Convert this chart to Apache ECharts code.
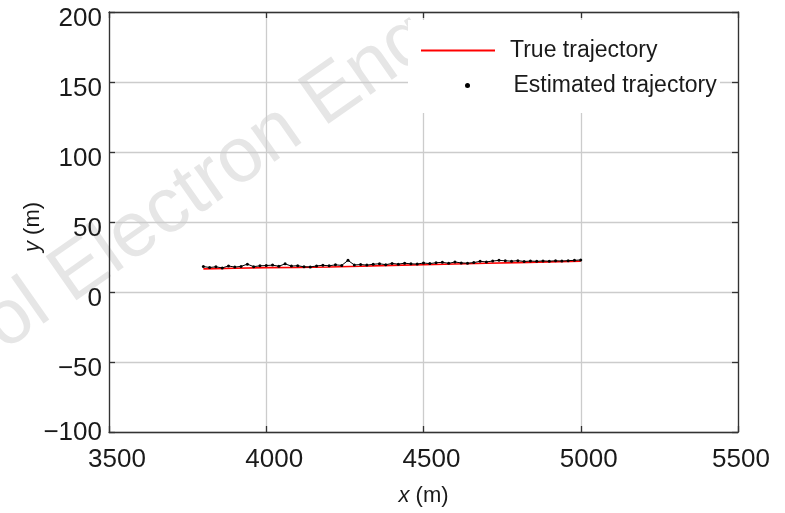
<!DOCTYPE html>
<html>
<head>
<meta charset="utf-8">
<script src="https://cdn.jsdelivr.net/npm/echarts@6/dist/echarts.min.js"></script>
<style>html,body{margin:0;padding:0;background:#fff;}#c{width:785px;height:513px;}</style>
</head>
<body>
<div id="c"></div>
<script>
// Axis ticks
var xTicks = [3500, 4000, 4500, 5000, 5500];
var yTicks = [-100, -50, 0, 50, 100, 150, 200];

// True trajectory (x, y in m)
var trueX = [3800, 3900, 4000, 4100, 4200, 4300, 4400, 4500, 4600, 4700, 4800, 4900, 5000];
var trueY = [16.5, 17.0, 17.4, 17.6, 17.9, 18.4, 19.0, 19.5, 20.0, 20.5, 21.0, 21.5, 22.0];

// Estimated trajectory (x, y in m)
var estX = [3800, 3820, 3840, 3860, 3880, 3900, 3920, 3940, 3960, 3980,
            4000, 4020, 4040, 4060, 4080, 4100, 4120, 4140, 4160, 4180,
            4200, 4220, 4240, 4260, 4280, 4300, 4320, 4340, 4360, 4380,
            4400, 4420, 4440, 4460, 4480, 4500, 4520, 4540, 4560, 4580,
            4600, 4620, 4640, 4660, 4680, 4700, 4720, 4740, 4760, 4780,
            4800, 4820, 4840, 4860, 4880, 4900, 4920, 4940, 4960, 4980, 5000];
var estY = [18.2, 17.5, 18.0, 17.2, 18.6, 17.8, 18.3, 19.9, 18.1, 18.7,
            18.9, 19.2, 18.4, 20.1, 18.5, 18.8, 18.0, 17.9, 18.6, 19.1,
            18.7, 19.4, 19.0, 22.6, 19.3, 19.6, 19.2, 19.8, 20.2, 19.5,
            20.4, 19.9, 20.6, 20.1, 20.0, 20.7, 20.3, 20.9, 21.2, 20.5,
            21.4, 20.8, 20.6, 21.0, 21.9, 21.5, 22.1, 22.6, 22.3, 22.0,
            22.4, 21.8, 22.1, 21.9, 22.2, 22.0, 22.3, 22.1, 22.4, 22.6, 22.9];

var trueData = trueX.map(function (x, i) { return [x, trueY[i]]; });
var estData = estX.map(function (x, i) { return [x, estY[i]]; });

var FONT = '"Liberation Sans", Arial, sans-serif';
var TXT = '#1a1a1a';
var FRAME = '#333333';
var GRIDC = '#cccccc';

function fmtNum(v) { return v < 0 ? '\u2212' + Math.abs(v) : String(v); }

function frameAxisLine() { return { show: true, onZero: false, lineStyle: { color: FRAME, width: 1.3 } }; }
function frameTick() { return { show: true, inside: true, length: 6, lineStyle: { color: FRAME, width: 1.3 } }; }

var chart = echarts.init(document.getElementById('c'), null, { renderer: 'canvas' });
chart.setOption({
  backgroundColor: '#ffffff',
  animation: false,
  grid: { left: 109, right: 47, top: 12, bottom: 81, show: false },
  graphic: [
    {
      type: 'text', z: 0, silent: true,
      x: 208, y: 182, rotation: 35 * Math.PI / 180,
      style: { text: 'ol Electron Eng', font: '78px ' + FONT, fill: '#e6e6e6', align: 'center', verticalAlign: 'middle' }
    },
    {
      type: 'rect', z: 1, silent: true,
      shape: { x: 408, y: 20, width: 312, height: 93 },
      style: { fill: '#ffffff' }
    }
  ],
  legend: [
    {
      data: [{ name: 'True trajectory', icon: 'rect' }],
      left: 421, top: 39, orient: 'horizontal', padding: 0,
      itemWidth: 74, itemHeight: 2,
      textStyle: { fontFamily: FONT, fontSize: 23, color: TXT, padding: [0, 0, 6, 10] },
      selectedMode: false
    },
    {
      data: [{ name: 'Estimated trajectory', icon: 'circle' }],
      left: 465, top: 74, orient: 'horizontal', padding: 0,
      itemWidth: 82, itemHeight: 5,
      textStyle: { fontFamily: FONT, fontSize: 23, color: TXT, padding: [0, 0, 6, 0] },
      selectedMode: false
    }
  ],
  xAxis: [
    {
      type: 'value', position: 'bottom', min: 3500, max: 5500, interval: 500,
      name: '{i|x} (m)', nameLocation: 'middle', nameGap: 53, nameMoveOverlap: false,
      nameTextStyle: { fontFamily: FONT, fontSize: 22, color: TXT,
        rich: { i: { fontFamily: FONT, fontSize: 22, fontStyle: 'italic', color: TXT } } },
      axisLine: frameAxisLine(),
      axisTick: frameTick(),
      axisLabel: {
        fontFamily: FONT, fontSize: 26, color: TXT, margin: 15,
        showMinLabel: true, showMaxLabel: true,
        formatter: function (v) { return v === 5500 ? '{b|' + fmtNum(v) + '}' : '{a|' + fmtNum(v) + '}'; },
        rich: {
          a: { fontFamily: FONT, fontSize: 26, color: TXT, padding: [0, 0, 0, 16] },
          b: { fontFamily: FONT, fontSize: 26, color: TXT, padding: [0, 0, 0, 6] }
        }
      },
      splitLine: { show: true, lineStyle: { color: GRIDC, width: 1.3 } }
    },
    {
      type: 'value', position: 'top', min: 3500, max: 5500, interval: 500,
      axisLine: frameAxisLine(),
      axisTick: frameTick(),
      axisLabel: { show: false },
      splitLine: { show: false }
    }
  ],
  yAxis: [
    {
      type: 'value', position: 'left', min: -100, max: 200, interval: 50,
      name: '{i|y} (m)', nameLocation: 'middle', nameGap: 65, nameRotate: 90, nameMoveOverlap: false,
      nameTextStyle: { fontFamily: FONT, fontSize: 22, color: TXT, padding: [0, 10, 0, 0],
        rich: { i: { fontFamily: FONT, fontSize: 22, fontStyle: 'italic', color: TXT } } },
      axisLine: frameAxisLine(),
      axisTick: frameTick(),
      axisLabel: {
        fontFamily: FONT, fontSize: 26, color: TXT, margin: 7,
        showMinLabel: true, showMaxLabel: true,
        formatter: function (v) { return v === -100 ? '{b|' + fmtNum(v) + '}' : '{a|' + fmtNum(v) + '}'; },
        rich: {
          a: { fontFamily: FONT, fontSize: 26, color: TXT, padding: [14, 0, 0, 0] },
          b: { fontFamily: FONT, fontSize: 26, color: TXT, padding: [2, 0, 0, 0] }
        }
      },
      splitLine: { show: true, lineStyle: { color: GRIDC, width: 1.3 } }
    },
    {
      type: 'value', position: 'right', min: -100, max: 200, interval: 50,
      axisLine: frameAxisLine(),
      axisTick: frameTick(),
      axisLabel: { show: false },
      splitLine: { show: false }
    }
  ],
  series: [
    {
      name: 'True trajectory', type: 'line', xAxisIndex: 0, yAxisIndex: 0, z: 2,
      data: trueData, showSymbol: false, symbol: 'none',
      lineStyle: { color: '#ff0000', width: 1.6 },
      itemStyle: { color: '#ff0000' }
    },
    {
      name: 'Estimated trajectory', type: 'line', xAxisIndex: 0, yAxisIndex: 0, z: 3,
      data: estData, symbol: 'circle', symbolSize: 3, showSymbol: true,
      lineStyle: { color: '#000000', width: 1 },
      itemStyle: { color: '#000000' }
    }
  ]
});
</script>
</body>
</html>
